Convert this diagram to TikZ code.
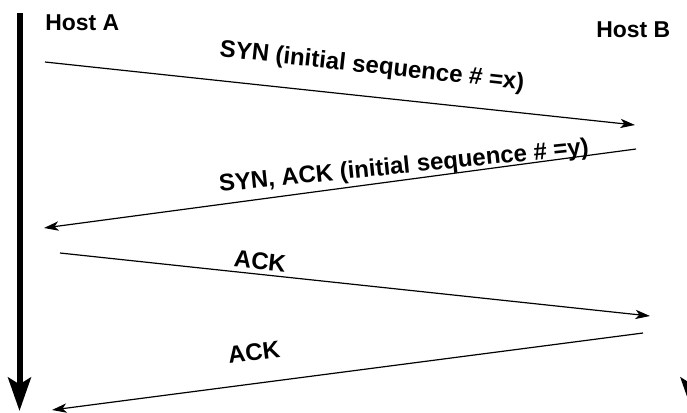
\documentclass[tikz,border=0pt]{standalone}
\usepackage{fontspec}
\setmainfont{Liberation Sans}
\usetikzlibrary{arrows.meta}
\begin{document}
\begin{tikzpicture}[x=0.75pt,y=-0.75pt,
  msg/.style={line width=0.9pt,-{Stealth[length=11pt,width=7pt,inset=3pt]}},
  timeline/.style={line width=4.5pt,-{Stealth[length=25pt,width=17pt,inset=5pt]}},
  host/.style={font=\fontsize{17.2}{19}\selectfont\bfseries,anchor=base west,inner sep=0pt},
  lbl/.style={font=\fontsize{18}{20}\selectfont\bfseries,inner sep=0pt}]
\useasboundingbox (0,0) rectangle (687,412);
\clip (0,0) rectangle (687,412);

% time axes of both hosts
\coordinate (ta0) at (19.5,13);
\coordinate (ta1) at (19.5,411);
\coordinate (tb0) at (692,13);
\coordinate (tb1) at (692,411);
\draw[timeline] (ta0) -- (ta1);
\draw[timeline] (tb0) -- (tb1);

% host names
\node[host] (hA) at (45,30) {Host A};
\node[host] (hB) at (596,37) {Host B};

% message end points
\coordinate (m1s) at (45,62);
\coordinate (m1e) at (635,125);
\coordinate (m2s) at (636,149);
\coordinate (m2e) at (44,228);
\coordinate (m3s) at (60,253);
\coordinate (m3e) at (650,316);
\coordinate (m4s) at (643,333);
\coordinate (m4e) at (52,410);

% handshake messages
\draw[msg] (m1s) -- (m1e);
\draw[msg] (m2s) -- (m2e);
\draw[msg] (m3s) -- (m3e);
\draw[msg] (m4s) -- (m4e);

% message labels
\node[lbl,rotate=-6.3] (l1) at (372,67) {SYN (initial sequence \# =x)};
\node[lbl,rotate=5.8] (l2) at (404,167) {SYN, ACK (initial sequence \# =y)};
\node[lbl,rotate=-6.1] (l3) at (260,261) {ACK};
\node[lbl,rotate=7.2] (l4) at (254,352) {ACK};
\end{tikzpicture}
\end{document}
